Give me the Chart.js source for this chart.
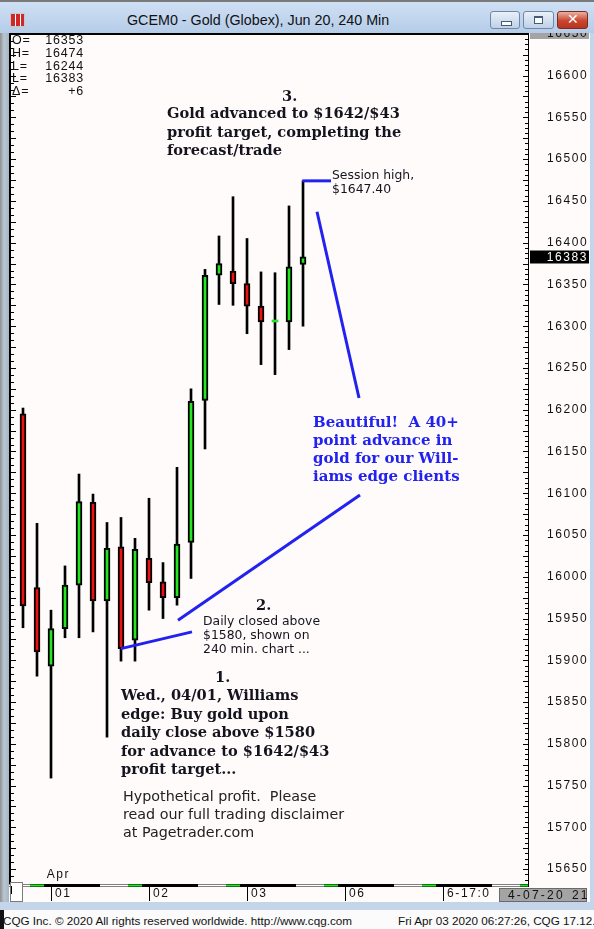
<!DOCTYPE html>
<html>
<head>
<meta charset="utf-8">
<script src="https://cdn.jsdelivr.net/npm/chart.js@4.4.1/dist/chart.umd.min.js"></script>
<style>
  body { margin: 0; width: 594px; height: 929px; position: relative; overflow: hidden; background: #fffbfb; font-family: "Liberation Sans", Arial, sans-serif; }
  #titlebar { position: absolute; left: 0; top: 0; width: 594px; height: 31px; border-top: 2px solid #7a7a7a; background: linear-gradient(#cfe0f4, #b5cce8); }
  #title { position: absolute; left: 127px; top: 10px; font-size: 14.3px; color: #111; white-space: nowrap; }
  #icon { position: absolute; left: 10px; top: 11px; width: 15px; height: 14px; background: #fff;
          background-image: linear-gradient(90deg, #d02828 4px, transparent 4px, transparent 5px, #d02828 5px, #d02828 9px, transparent 9px, transparent 10px, #d02828 10px);
          background-size: 15px 6px; background-repeat: repeat-y; border: 1px solid #c8c8c8; box-sizing: border-box; }
  .btn { position: absolute; top: 9px; height: 18px; border: 1px solid #6f88aa; border-radius: 3px; box-sizing: border-box; background: linear-gradient(#e9f0f8, #bfd1e7); }
  #bmin { left: 490px; width: 30px; }
  #bmax { left: 523px; width: 31px; }
  #bclose { left: 557px; width: 31px; border-color: #7a2b20; background: linear-gradient(#eab0a2, #c9452f 55%, #b83521); }
  #bmin::after { content: ""; position: absolute; left: 10px; top: 9px; width: 9px; height: 3px; background: #fff; border: 1px solid #435a78; }
  #bmax::after { content: ""; position: absolute; left: 10px; top: 4px; width: 7px; height: 5px; border: 1px solid #435a78; border-top-width: 2px; background: #fff; }
  #bclose::after { content: "\2715"; position: absolute; left: 9px; top: -1px; color: #fff; font: bold 14px "DejaVu Sans", sans-serif; }
  #lframe { position: absolute; left: 0; top: 33px; width: 9px; height: 877px; background: linear-gradient(90deg, #8f8f8f, #b9c6d4 45%, #a6b4c4); }
  #rframe { position: absolute; left: 590px; top: 33px; width: 4px; height: 877px; background: #c3d5ec; }
  #bframe { position: absolute; left: 0; top: 902px; width: 594px; height: 8px; background: #c5d5e9; }
  #status { position: absolute; left: 0; top: 910px; width: 594px; height: 19px; background: #fbfbfb; border-left: 4px solid #111; box-sizing: border-box; font-size: 11.7px; color: #111; }
  #status span { position: absolute; top: 4px; white-space: nowrap; }
  #wrap { position: absolute; left: 9px; top: 33px; width: 581px; height: 869px; overflow: hidden; }
  .note { position: absolute; white-space: nowrap; color: #14141e; z-index: 2; }
  .serif { font-family: "DejaVu Serif", serif; font-weight: bold; font-size: 14.6px; line-height: 18.5px; }
  .sans { font-family: "DejaVu Sans", sans-serif; font-size: 12.4px; line-height: 14px; }
  .blue { color: #2222f0; font-size: 15px; line-height: 18px; }
  #info { position: absolute; left: 12px; top: 34px; z-index: 2; font-size: 12.5px; letter-spacing: 0.8px; line-height: 12.75px; color: #111; }
  #info div { width: 72px; display: flex; justify-content: space-between; }
</style>
</head>
<body>
<div id="titlebar">
  <div id="icon"></div>
  <div id="title">GCEM0 - Gold (Globex), Jun 20, 240 Min</div>
  <div class="btn" id="bmin"></div>
  <div class="btn" id="bmax"></div>
  <div class="btn" id="bclose"></div>
</div>
<div id="lframe"></div>
<div id="rframe"></div>
<div id="bframe"></div>
<div id="status"><span style="left:-1px">CQG Inc. © 2020 All rights reserved worldwide. http://www.cqg.com</span><span style="left:394px">Fri Apr 03 2020 06:27:26, CQG 17.12.860</span></div>
<div id="wrap"><canvas id="chart" width="581" height="869"></canvas></div>
<div id="info"></div>

<div class="note serif" style="left:282px; top:87px">3.</div>
<div class="note serif" style="left:167px; top:104px">Gold advanced to $1642/$43<br>profit target, completing the<br>forecast/trade</div>
<div class="note sans" style="left:332px; top:168px">Session high,<br>$1647.40</div>
<div class="note serif blue" style="left:313px; top:413px">Beautiful!&nbsp; A 40+<br>point advance in<br>gold for our Will-<br>iams edge clients</div>
<div class="note serif" style="left:256px; top:596px">2.</div>
<div class="note sans" style="left:203px; top:614px">Daily closed above<br>$1580, shown on<br>240 min. chart ...</div>
<div class="note serif" style="left:215px; top:668px">1.</div>
<div class="note serif" style="left:121px; top:686px">Wed., 04/01, Williams<br>edge: Buy gold upon<br>daily close above $1580<br>for advance to $1642/$43<br>profit target...</div>
<div class="note sans" style="left:123px; top:787px; font-size:14.3px; line-height:18px; color:#222">Hypothetical profit.&nbsp; Please<br>read our full trading disclaimer<br>at Pagetrader.com</div>

<script>
// 240 min bars, Mar 31 - Apr 03, prices in 1/10 $
const opens  = [16195, 15987, 15893, 15938, 15990, 16089, 15971, 16036, 15924, 16022, 15994, 15975, 16041, 16211, 16361, 16366, 16351, 16324, 16305, 16305, 16374];
const highs  = [16202, 16064, 15960, 16013, 16123, 16099, 16065, 16071, 16046, 16094, 16017, 16131, 16225, 16368, 16408, 16455, 16405, 16365, 16364, 16444, 16474];
const lows   = [15939, 15881, 15759, 15927, 15927, 15934, 15808, 15899, 15899, 15960, 15950, 15966, 15998, 16153, 16326, 16325, 16291, 16254, 16242, 16272, 16300];
const closes = [15965, 15910, 15938, 15990, 16090, 15971, 16034, 15914, 16033, 15993, 15975, 16039, 16210, 16361, 16375, 16351, 16324, 16305, 16305, 16371, 16383];

const yTicks = [15650, 15700, 15750, 15800, 15850, 15900, 15950, 16000, 16050, 16100, 16150, 16200, 16250, 16300, 16350, 16400, 16450, 16500, 16550, 16600, 16650];
const dayTicks = [2, 9, 16, 23, 30];
const dayLabels = ['01', '02', '03', '06', '6-17:0'];

const infoRows = [['O=', '16353'], ['H=', '16474'], ['L=', '16244'], ['L=', '16383'], ['\u0394=', '+6']];

// blue pointer lines, in bar index / price units
const pointers = [
  [[19.95, 16474], [22, 16474]],
  [[21, 16437], [24, 16214]],
  [[11.07, 15948], [24.07, 16098]],
  [[7, 15914], [12.07, 15934]]
];

const GREEN = '#22e622', RED = '#ee1111', BLUE = '#2222f0';
const FONT = '"Liberation Sans", Arial, sans-serif';

document.getElementById('info').innerHTML = infoRows.map(r => `<div><span>${r[0]}</span><span>${r[1]}</span></div>`).join('');

const bodies = opens.map((o, i) => ({ x: i, y: [o, closes[i]] }));
const wicks = highs.map((h, i) => ({ x: i, y: [lows[i], h] }));

const cqgChrome = {
  id: 'cqgChrome',
  beforeDraw(chart) {
    const { ctx, chartArea: a } = chart;
    ctx.save();
    ctx.fillStyle = '#fffbfb';
    ctx.fillRect(0, 0, chart.width, chart.height);
    ctx.fillStyle = '#a4a4a4';
    ctx.fillRect(a.right + 2, 0, 59, 6);
    ctx.restore();
    ctx.letterSpacing = '1.6px';
  },
  afterDraw(chart) {
    const { ctx, chartArea: a, scales: { x, y } } = chart;
    ctx.save();
    ctx.letterSpacing = '0px';
    ctx.fillStyle = '#000';
    // frame
    ctx.fillRect(a.left, a.top, a.right - a.left, 2);
    ctx.fillRect(a.left, a.top, 2, a.bottom - a.top);
    ctx.fillRect(a.right, a.top, 1, a.bottom - a.top + 2);

    // tick marks, left and right edges
    for (let v = 15625; v <= 16650; v += 25 / 3) {
      const p = Math.round(y.getPixelForValue(v)) + 0.5;
      const major = Math.abs(v / 25 - Math.round(v / 25)) < 0.01;
      ctx.fillRect(a.left + 2, p - 0.5, major ? 5 : 3, 1);
    }
    for (let v = 15625; v <= 16650; v += 6.25) {
      const p = Math.round(y.getPixelForValue(v)) + 0.5;
      const major = v % 25 === 0;
      ctx.fillRect(a.right - (major ? 5 : 3), p - 0.5, major ? 5 : 3, 1);
    }

    // session strip along the bottom
    const strip = ['#000', '#000', '#000', '#000', '#fff', '#fff', GREEN];
    ctx.fillRect(a.left, a.bottom - 1, a.right - a.left, 3);
    for (let i = -1; i < 37; i++) {
      const k = ((i - dayTicks[0]) % 7 + 7) % 7;
      if (k < 4) continue;
      const x0 = Math.max(a.left, x.getPixelForValue(i - 0.5));
      const x1 = Math.min(a.right, x.getPixelForValue(i + 0.5));
      if (x1 <= x0) continue;
      ctx.fillStyle = strip[k];
      ctx.fillRect(x0, a.bottom - 0.5, x1 - x0, 2);
    }

    // day separators
    ctx.fillStyle = '#000';
    dayTicks.forEach(d => {
      const p = Math.round(x.getPixelForValue(d));
      ctx.fillRect(p, a.bottom + 2, 1, 14);
    });

    // scroll box bottom-left
    ctx.fillStyle = '#fff';
    ctx.fillRect(a.left + 1, a.bottom - 3, 13, 20);
    ctx.strokeStyle = '#7a7a7a';
    ctx.lineWidth = 1;
    ctx.strokeRect(a.left + 1.5, a.bottom - 2.5, 12, 19);
    ctx.fillStyle = '#000';
    ctx.fillRect(a.left + 2, a.bottom + 1, 1, 8);

    // month label
    ctx.letterSpacing = '1.5px';
    ctx.font = '12px ' + FONT;
    ctx.fillStyle = '#111';
    ctx.textBaseline = 'middle';
    ctx.textAlign = 'left';
    ctx.fillText('Apr', x.getPixelForValue(1.7), a.bottom - 10);

    // current price marker
    const last = closes[closes.length - 1];
    const py = y.getPixelForValue(last);
    ctx.fillStyle = '#000';
    ctx.fillRect(a.right + 2, Math.round(py) - 6.5, 59, 13);
    ctx.fillStyle = '#fff';
    ctx.textAlign = 'right';
    ctx.letterSpacing = '1.6px';
    ctx.fillText(String(last), a.right + 60, py + 0.5);

    // time cursor box
    ctx.fillStyle = '#a4a4a4';
    ctx.fillRect(490, a.bottom + 3, 88, 14);
    ctx.strokeStyle = '#6a6a6a';
    ctx.strokeRect(490.5, a.bottom + 3.5, 87, 13);
    ctx.fillStyle = '#111';
    ctx.textAlign = 'left';
    ctx.letterSpacing = '2.2px';
    ctx.fillText('4-07-20', 499, a.bottom + 10.5);
    ctx.fillText('21', 563, a.bottom + 10.5);

    // blue pointer lines
    ctx.letterSpacing = '0px';
    ctx.strokeStyle = BLUE;
    ctx.lineWidth = 3;
    pointers.forEach(([p0, p1]) => {
      ctx.beginPath();
      ctx.moveTo(x.getPixelForValue(p0[0]), y.getPixelForValue(p0[1]));
      ctx.lineTo(x.getPixelForValue(p1[0]), y.getPixelForValue(p1[1]));
      ctx.stroke();
    });
    ctx.restore();
  }
};

new Chart(document.getElementById('chart'), {
  type: 'bar',
  data: {
    datasets: [
      {
        label: 'Body',
        data: bodies,
        backgroundColor: ctx => closes[ctx.dataIndex] >= opens[ctx.dataIndex] ? GREEN : RED,
        borderColor: '#000',
        borderWidth: ctx => closes[ctx.dataIndex] === opens[ctx.dataIndex] ? 0 : 2,
        borderSkipped: false,
        barThickness: 6,
        minBarLength: 2,
        grouped: false
      },
      {
        label: 'Range',
        data: wicks,
        backgroundColor: '#000',
        borderWidth: 0,
        barThickness: 2,
        grouped: false
      }
    ]
  },
  options: {
    responsive: false,
    animation: false,
    devicePixelRatio: 1,
    layout: { padding: 0 },
    plugins: { legend: { display: false }, tooltip: { enabled: false } },
    scales: {
      x: {
        type: 'linear',
        offset: false,
        min: -1,
        max: 36.07,
        grid: { display: false, drawTicks: false },
        border: { display: false },
        afterBuildTicks: s => { s.ticks = dayTicks.map(v => ({ value: v })); },
        afterFit: s => { s.height = 17; s.paddingLeft = 0; s.paddingRight = 0; },
        ticks: {
          align: 'start',
          padding: 1,
          autoSkip: false,
          maxRotation: 0,
          color: '#111',
          font: { family: FONT, size: 12 },
          callback: v => '\u2009' + dayLabels[dayTicks.indexOf(v)]
        }
      },
      y: {
        position: 'right',
        min: 15631,
        max: 16651,
        grid: { display: false, drawTicks: false },
        border: { display: false },
        afterBuildTicks: s => { s.ticks = yTicks.map(v => ({ value: v })); },
        afterFit: s => { s.width = 62; s.paddingTop = 0; s.paddingBottom = 0; },
        ticks: {
          padding: 19,
          autoSkip: false,
          color: '#111',
          font: { family: FONT, size: 12 },
          callback: v => String(v)
        }
      }
    }
  },
  plugins: [cqgChrome]
});
</script>
</body>
</html>
